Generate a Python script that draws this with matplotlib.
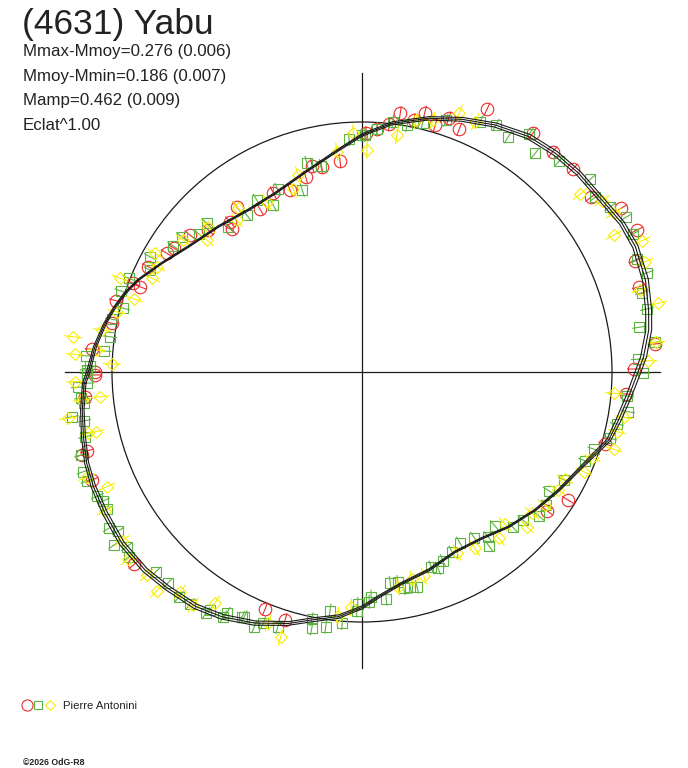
import numpy as np
import matplotlib.pyplot as plt
from matplotlib.collections import LineCollection
from matplotlib.patches import Circle

# fitted light curve in polar form: angle (deg), radius (mean circle = 1)
curve_ang = [-177.7, -172.3, -166.9, -161.7, -156.9, -151.2, -144.5, -137.6, -132.1, -125.4,
             -119.8, -113.1, -106.3, -101.5, -95.5, -90.0, -85.7, -79.3, -71.4, -62.6,
             -54.2, -46.5, -38.5, -31.0, -24.3, -19.2, -15.4, -10.6, -5.3, 0.0,
             3.1, 8.3, 12.2, 18.0, 24.6, 29.8, 35.6, 42.5, 48.5, 54.7,
             61.6, 68.4, 75.3, 83.1, 90.0, 96.1, 104.9, 116.0, 125.1, 134.7,
             144.2, 151.5, 157.6, 161.6, 165.2, 169.3, 174.6, 180.0]
curve_rad = [1.112, 1.129, 1.144, 1.160, 1.168, 1.173, 1.180, 1.175, 1.163, 1.150,
             1.128, 1.092, 1.048, 1.012, 0.983, 0.942, 0.901, 0.860, 0.836, 0.810,
             0.820, 0.853, 0.886, 0.918, 0.951, 0.988, 1.024, 1.044, 1.071, 1.104,
             1.128, 1.159, 1.173, 1.192, 1.203, 1.198, 1.181, 1.176, 1.168, 1.154,
             1.123, 1.087, 1.049, 1.002, 0.948, 0.893, 0.836, 0.795, 0.792, 0.818,
             0.857, 0.912, 0.968, 0.999, 1.022, 1.046, 1.073, 1.095]
# half width of the uncertainty band along the curve
curve_unc = [0.007, 0.007, 0.008, 0.008, 0.009, 0.010, 0.010, 0.010, 0.010, 0.010,
             0.010, 0.009, 0.008, 0.008, 0.007, 0.006, 0.005, 0.004, 0.004, 0.003,
             0.003, 0.003, 0.003, 0.004, 0.005, 0.007, 0.008, 0.010, 0.011, 0.012,
             0.012, 0.012, 0.012, 0.012, 0.011, 0.010, 0.010, 0.010, 0.010, 0.010,
             0.009, 0.008, 0.007, 0.006, 0.005, 0.004, 0.003, 0.003, 0.003, 0.003,
             0.003, 0.003, 0.003, 0.004, 0.004, 0.005, 0.006, 0.007]

# observations (Pierre Antonini), plane coordinates of the polar diagram
red_x = [0.016, 0.060, 0.109, 0.153, 0.207, 0.251, 0.293, 0.347, 0.389, 0.500,
         0.683, 0.763, 0.843, 0.916, 1.037, 1.100, 1.093, 1.107, 1.171, 1.088,
         -0.088, -0.161, -0.225, -0.199, -0.288, -0.355, -0.408, -0.501, -0.521, -0.528,
         -0.615, -0.688, -0.751, -0.781, -0.855, -0.888, -0.915, -0.985, -1.001, -1.081,
         -1.068, -1.068, -1.108, -1.121, -1.101, -1.081, -0.911, -0.388, -0.308,
         1.057, 0.973, 0.824, 0.740]
red_y = [0.955, 0.971, 0.991, 1.035, 1.008, 1.037, 0.988, 1.015, 0.971, 1.051,
         0.955, 0.881, 0.813, 0.699, 0.655, 0.568, 0.445, 0.341, 0.112, 0.012,
         0.845, 0.819, 0.779, 0.824, 0.728, 0.717, 0.651, 0.661, 0.571, 0.601,
         0.568, 0.548, 0.495, 0.475, 0.421, 0.341, 0.355, 0.285, 0.195, 0.091,
         0.001, -0.012, -0.099, -0.332, -0.316, -0.432, -0.769, -0.949, -0.992,
         -0.088, -0.288, -0.512, -0.555]

green_x = [0.011, 0.060, 0.123, 0.180, 0.243, 0.336, 0.473, 0.536, 0.584, 0.669,
           0.693, 0.789, 0.913, 0.933, 0.993, 1.056, 1.083, 1.100, 1.140, 1.120,
           1.140, 1.109, 1.173, 1.104, 1.123,
           -0.001, -0.052, -0.221, -0.165, -0.239, -0.337, -0.355, -0.421, -0.461, -0.535,
           -0.621, -0.652, -0.721, -0.755, -0.848, -0.848, -0.932, -0.964, -0.955, -0.999,
           -1.008, -1.031, -1.105, -1.088, -1.101,
           -1.101, -1.137, -1.099, -1.124, -1.111, -1.159, -1.111, -1.108, -1.124, -1.115,
           -1.099, -1.059, -1.035, -1.021, -1.012, -0.975, -0.991, -0.941, -0.932, -0.825,
           -0.777, -0.732, -0.688, -0.625, -0.608, -0.555, -0.541, -0.481, -0.471, -0.431,
           -0.395, -0.337, -0.201, -0.201, -0.145, -0.128, -0.079, -0.021, -0.017,
           1.060, 1.064, 1.020, 0.993, 0.929, 0.891, 0.809, 0.747, 0.737, 0.707,
           0.643, 0.603, 0.531, 0.504, 0.507, 0.449, 0.391, 0.360, 0.324, 0.277,
           0.304, 0.220, 0.193, 0.144, 0.113, 0.167, 0.097, 0.037, 0.029]
green_y = [0.948, 0.971, 1.001, 0.988, 0.997, 1.008, 1.001, 0.988, 0.939, 0.952,
           0.875, 0.844, 0.771, 0.699, 0.661, 0.619, 0.552, 0.451, 0.397, 0.317,
           0.252, 0.179, 0.119, 0.051, -0.005,
           0.948, 0.931, 0.837, 0.824, 0.728, 0.731, 0.667, 0.688, 0.628, 0.581,
           0.595, 0.552, 0.541, 0.504, 0.461, 0.408, 0.375, 0.324, 0.255, 0.211,
           0.141, 0.084, 0.065, 0.024, 0.008,
           -0.005, -0.061, -0.045, -0.105, -0.125, -0.179, -0.195, -0.259, -0.332, -0.399,
           -0.435, -0.496, -0.516, -0.549, -0.625, -0.636, -0.692, -0.699, -0.739, -0.799,
           -0.845, -0.899, -0.928, -0.965, -0.952, -0.979, -0.965, -0.981, -0.979, -1.019,
           -1.003, -1.021, -0.989, -1.025, -1.019, -0.955, -1.003, -0.955, -0.928,
           -0.096, -0.159, -0.208, -0.265, -0.309, -0.355, -0.432, -0.475, -0.532, -0.576,
           -0.592, -0.621, -0.615, -0.659, -0.695, -0.663, -0.683, -0.719, -0.755, -0.781,
           -0.785, -0.859, -0.861, -0.840, -0.843, -0.865, -0.907, -0.899, -0.919]

yellow_x = [0.020, 0.140, 0.216, 0.283, 0.389, 0.453, 0.873, 0.960, 1.007, 1.007,
            1.120, 1.131, 1.113, 1.184, 1.176, 1.144,
            -0.035, -0.101, -0.255, -0.275, -0.381, -0.495, -0.501, -0.621, -0.615, -0.715,
            -0.828, -0.821, -0.841, -0.968, -0.911, -0.981, -1.041, -1.155, -1.148, -1.001,
            -1.061,
            -1.148, -1.048, -1.121, -1.175, -1.065, -1.095, -1.101, -1.021, -1.028, -0.961,
            -0.937, -0.861, -0.821, -0.728, -0.675, -0.588, -0.375, -0.325, -0.097, -0.044,
            1.009, 1.047, 1.020, 1.007, 0.920, 0.887, 0.811, 0.784, 0.731, 0.680,
            0.660, 0.571, 0.547, 0.451, 0.380, 0.247, 0.200, 0.144]
yellow_y = [0.888, 0.948, 1.008, 1.008, 1.035, 1.001, 0.712, 0.685, 0.635, 0.548,
            0.525, 0.441, 0.328, 0.275, 0.119, 0.045,
            0.957, 0.881, 0.788, 0.731, 0.681, 0.655, 0.608, 0.528, 0.581, 0.528,
            0.475, 0.421, 0.375, 0.375, 0.292, 0.241, 0.168, 0.141, 0.071, 0.032,
            0.088,
            -0.039, -0.099, -0.112, -0.185, -0.239, -0.245, -0.421, -0.459, -0.555, -0.675,
            -0.749, -0.812, -0.875, -0.879, -0.932, -0.925, -1.003, -1.059, -0.976, -0.941,
            -0.085, -0.181, -0.239, -0.309, -0.345, -0.399, -0.429, -0.472, -0.532, -0.565,
            -0.619, -0.608, -0.665, -0.705, -0.723, -0.816, -0.829, -0.859]

red_err = 0.028
green_err = 0.028
yellow_err = 0.036

title = "(4631) Yabu"
stats = ["Mmax-Mmoy=0.276 (0.006)", "Mmoy-Mmin=0.186 (0.007)",
         "Mamp=0.462 (0.009)", "Eclat^1.00"]
observer = "Pierre Antonini"
credit = "\u00a92026 OdG-R8"

RED = '#ee2a2a'
GREEN = '#5cb342'
YELLOW = '#f8ee00'
INK = '#1a1a1a'

plt.rcParams['font.family'] = ['Liberation Sans', 'DejaVu Sans']

W, H = 688, 768
fig = plt.figure(figsize=(W / 100, H / 100), dpi=100)
ax = fig.add_axes([0, 0, 1, 1])
# 250 px per unit, centre at pixel (362, 372)
ax.set_xlim(-362 / 250, (W - 362) / 250)
ax.set_ylim(-(H - 372) / 250, 372 / 250)
ax.axis('off')

# cross and mean circle
ax.plot([-1.19, 1.19], [0, 0], color=INK, lw=0.9, zorder=1)
ax.plot([0, 0], [-1.185, 1.196], color=INK, lw=0.9, zorder=1)
ax.add_patch(Circle((0, 0), 1.0, fill=False, ec=INK, lw=0.9, zorder=1))


def draw_series(xs, ys, err, color, marker, ms):
    xs = np.asarray(xs)
    ys = np.asarray(ys)
    rr = np.hypot(xs, ys)
    ux, uy = xs / rr, ys / rr
    segs = [[(x - err * a, y - err * b), (x + err * a, y + err * b)]
            for x, y, a, b in zip(xs, ys, ux, uy)]
    ax.add_collection(LineCollection(segs, colors=color, linewidths=0.8, zorder=2))
    ax.plot(xs, ys, ls='none', marker=marker, ms=ms, mfc='none', mec=color,
            mew=0.8, zorder=2)


draw_series(red_x, red_y, red_err, RED, 'o', 9.0)
draw_series(green_x, green_y, green_err, GREEN, 's', 6.5)
draw_series(yellow_x, yellow_y, yellow_err, YELLOW, 'D', 6.0)

# fit with its uncertainty band
ang = np.radians(np.append(curve_ang, curve_ang[0] + 360))
rad = np.append(curve_rad, curve_rad[0])
unc = np.append(curve_unc, curve_unc[0])
for k in (-1, 0, 1):
    rk = rad + k * unc
    ax.plot(rk * np.cos(ang), rk * np.sin(ang), color=INK, lw=0.8, zorder=3)

# texts
fig.text(22 / W, 1 - 34 / H, title, fontsize=25.5, color='#222222', va='baseline')
for i, s in enumerate(stats):
    fig.text(23 / W, 1 - (56 + 24.7 * i) / H, s, fontsize=12.2, color='#222222',
             va='baseline')

# observer legend
lx = [27, 38, 50]
for x, mk, c, ms in zip(lx, ['o', 's', 'D'], [RED, GREEN, YELLOW], [8.0, 6.0, 5.5]):
    fig.add_artist(plt.Line2D([x / W], [1 - 705 / H], marker=mk, ms=ms, mfc='none',
                              mec=c, mew=0.8, ls='none'))
fig.text(63 / W, 1 - 709 / H, observer, fontsize=8.2, color='#222222', va='baseline')
fig.text(23 / W, 1 - 765 / H, credit, fontsize=6.3, color='#222222', va='baseline',
         fontweight='bold')

fig.savefig('out.png', dpi=100)
